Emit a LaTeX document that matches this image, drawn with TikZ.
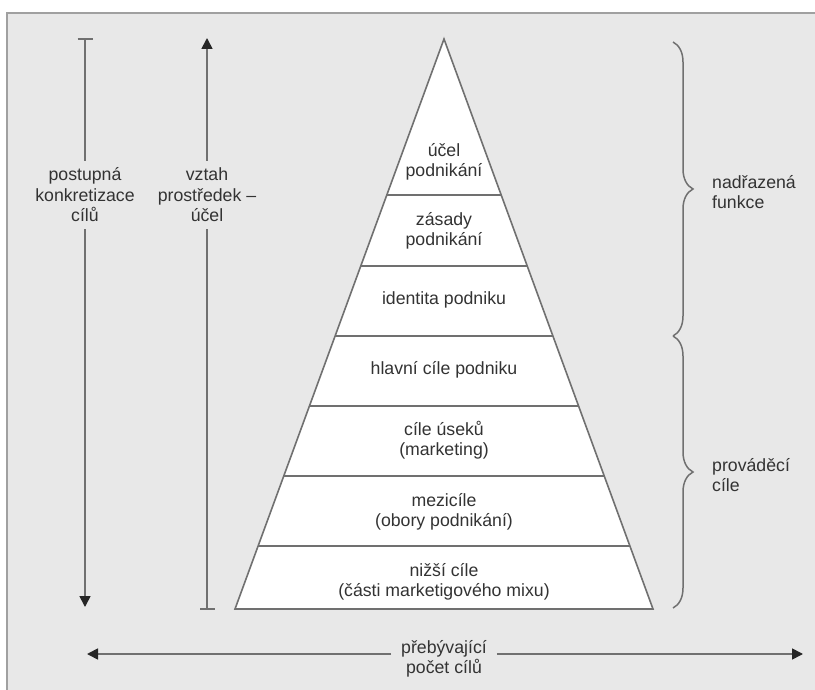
\documentclass[tikz,border=0pt]{standalone}
\usepackage{fontspec}
\setmainfont{Liberation Sans}
\usetikzlibrary{arrows.meta,calc,decorations.pathreplacing}
\definecolor{bg}{HTML}{E8E8E8}
\definecolor{ln}{HTML}{707070}
\definecolor{frm}{HTML}{A0A0A0}
\definecolor{tx}{HTML}{333333}
\tikzset{
  lbl/.style={text=tx, align=center, inner sep=0pt},
  side/.style={text=tx, align=left, inner sep=0pt, anchor=west},
  gaplbl/.style={text=tx, align=center, inner xsep=10pt, inner ysep=7pt},
  conn/.style={draw=ln, line width=1.7pt},
  tipend/.style={conn, -{Triangle[length=11pt,width=11pt,color=black!85]}},
  barend/.style={conn, {Bar[width=15pt]}-},
  pyr/.style={draw=ln, line width=1.6pt, fill=white, line join=miter},
  divline/.style={draw=ln, line width=1.6pt},
  brc/.style={draw=ln, line width=1.5pt, decorate, decoration={brace, amplitude=20pt, aspect=0.5}}
}
\begin{document}
\begin{tikzpicture}[x=1pt, y=-1pt, font=\fontsize{17.7}{20.5}\selectfont]
\useasboundingbox (0,0) rectangle (815,690);
% frame
\fill[bg] (7,13) rectangle (820,695);
\draw[frm, line width=1.5pt] (7,695) -- (7,13) -- (820,13);

% pyramid
\coordinate (apex) at (444,39);
\coordinate (bl) at (235,609);
\coordinate (br) at (653,609);
\draw[pyr] (apex) -- (br) -- (bl) -- cycle;
\foreach \t/\n in {0.2737/d1, 0.3982/d2, 0.5211/d3, 0.6439/d4, 0.7667/d5, 0.8895/d6}{
  \coordinate (\n l) at ($(apex)!\t!(bl)$);
  \coordinate (\n r) at ($(apex)!\t!(br)$);
  \draw[divline] (\n l) -- (\n r);
}

% layer texts
\node[lbl] (l1) at (444,162) {účel\\podnikání};
\node[lbl] (l2) at (444,231) {zásady\\podnikání};
\node[lbl] (l3) at (444,300) {identita podniku};
\node[lbl] (l4) at (444,370) {hlavní cíle podniku};
\node[lbl] (l5) at (444,440) {cíle úseků\\(marketing)};
\node[lbl] (l6) at (444,512) {mezicíle\\(obory podnikání)};
\node[lbl] (l7) at (444,582) {nižší cíle\\(části marketigového mixu)};

% left vertical arrows
\coordinate (a1top) at (85,38);
\coordinate (a1bot) at (85,607);
\node[gaplbl] (t1) at (85,195) {postupná\\konkretizace\\cílů};
\draw[barend] (a1top) -- (t1.north);
\draw[tipend] (t1.south) -- (a1bot);

\coordinate (a2top) at (207,38);
\coordinate (a2bot) at (207,610);
\node[gaplbl] (t2) at (207,195) {vztah\\prostředek –\\účel};
\draw[tipend] (t2.north) -- (a2top);
\draw[barend] (a2bot) -- (t2.south);

% bottom arrow
\coordinate (hl) at (87,654);
\coordinate (hr) at (803,654);
\node[gaplbl] (t3) at (444,659) {přebývající\\počet cílů};
\draw[tipend] (t3.west |- hl) -- (hl);
\draw[tipend] (t3.east |- hr) -- (hr);

% braces
\coordinate (b1) at (673,42);
\coordinate (b2) at (673,336);
\coordinate (b3) at (673,608);
\draw[brc] (b1) -- (b2);
\draw[brc] (b2) -- (b3);
\node[side] (s1) at (712,192) {nadřazená\\funkce};
\node[side] (s2) at (712,475) {prováděcí\\cíle};
\end{tikzpicture}
\end{document}
